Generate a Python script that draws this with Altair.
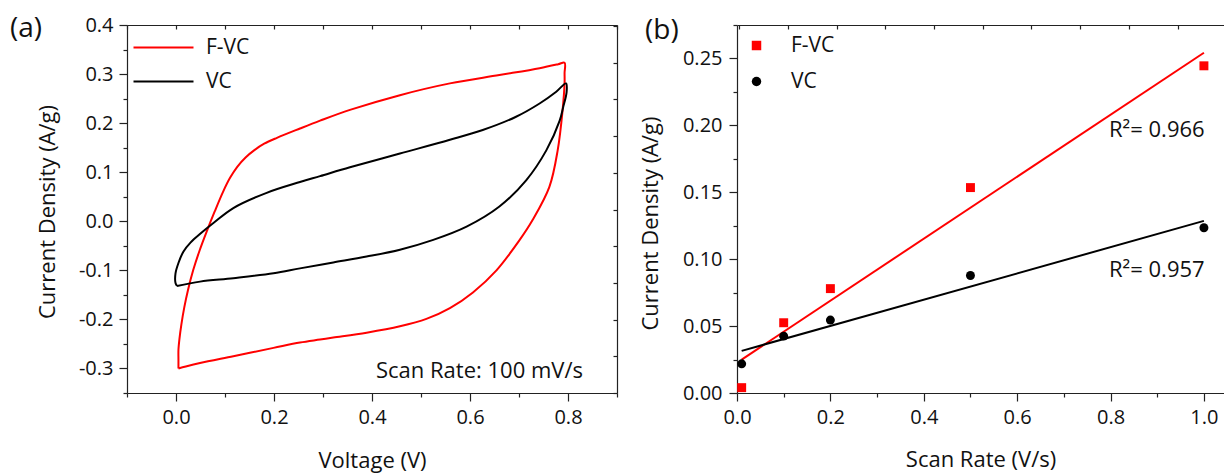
import altair as alt
import pandas as pd

FONT = "Open Sans"
SERIES = ["F-VC", "VC"]
COLORS = ["#ff0000", "#000000"]

# ---------------- panel (a): CV loops at 100 mV/s ----------------
fvc_v = [0.005, 0.005, 0.005, 0.007, 0.011, 0.017, 0.0245, 0.035, 0.048, 0.063, 0.079, 0.096, 0.110,
         0.125, 0.142, 0.160, 0.180, 0.206, 0.253, 0.294, 0.355, 0.457, 0.559, 0.660, 0.742, 0.780,
         0.793, 0.793, 0.793,
         0.789, 0.779, 0.762, 0.728, 0.700, 0.654, 0.606, 0.559, 0.511, 0.457, 0.389,
         0.321, 0.294, 0.253, 0.199, 0.117, 0.049, 0.020, 0.005]
fvc_i = [-0.300, -0.282, -0.262, -0.240, -0.210, -0.175, -0.140, -0.100, -0.060, -0.020, 0.020, 0.060, 0.088,
         0.111, 0.130, 0.145, 0.158, 0.170, 0.189, 0.205, 0.227, 0.257, 0.281, 0.298, 0.312, 0.320,
         0.323, 0.302, 0.281,
         0.227, 0.145, 0.070, 0.003, -0.040, -0.100, -0.145, -0.177, -0.199, -0.214, -0.227,
         -0.237, -0.241, -0.247, -0.258, -0.275, -0.289, -0.296, -0.300]

vc_v = [0.002, -0.001, -0.001, 0.005, 0.015, 0.030, 0.050, 0.077, 0.117, 0.185, 0.253, 0.294,
        0.355, 0.457, 0.559, 0.626, 0.694, 0.742, 0.776, 0.796,
        0.797, 0.790, 0.783, 0.756, 0.715, 0.660, 0.593, 0.525, 0.457, 0.389,
        0.321, 0.253, 0.199, 0.117, 0.049, 0.002]
vc_i = [-0.132, -0.126, -0.106, -0.085, -0.062, -0.043, -0.025, -0.003, 0.027, 0.058, 0.080, 0.092,
        0.110, 0.138, 0.166, 0.186, 0.213, 0.240, 0.264, 0.281,
        0.262, 0.232, 0.205, 0.145, 0.084, 0.030, -0.011, -0.038, -0.058, -0.072,
        -0.084, -0.096, -0.106, -0.116, -0.123, -0.132]

# ---------------- panel (b): current density vs scan rate ----------------
scan_rate = [0.01, 0.1, 0.2, 0.5, 1.0]
fvc_cd = [0.004, 0.0525, 0.078, 0.1535, 0.2445]
vc_cd = [0.0218, 0.0425, 0.0545, 0.0878, 0.1235]

# tick values
xa_ticks = [-0.1, 0.0, 0.1, 0.2, 0.3, 0.4, 0.5, 0.6, 0.7, 0.8, 0.9]
ya_ticks = [-0.35, -0.3, -0.25, -0.2, -0.15, -0.1, -0.05, 0.0, 0.05, 0.1, 0.15, 0.2, 0.25, 0.3, 0.35, 0.4]
xb_ticks = [0.0, 0.1, 0.2, 0.3, 0.4, 0.5, 0.6, 0.7, 0.8, 0.9, 1.0]
yb_ticks = [0.0, 0.025, 0.05, 0.075, 0.1, 0.125, 0.15, 0.175, 0.2, 0.225, 0.25, 0.275]
mirror_a_right = [0, 1, 2, 3, 4, 5, 6, 7, 8, 9, 10]
mirror_b_top = [0, 1, 2, 3, 4, 5, 6, 7, 8, 9]

# texts
label_a = "(a)"
label_b = "(b)"
scan_note = "Scan Rate: 100 mV/s"
r2_texts = ["R\u00b2= 0.966", "R\u00b2= 0.957"]

W1, W2, H = 490, 487, 368

rows_a = []
for name, vs, cs in [("F-VC", fvc_v, fvc_i), ("VC", vc_v, vc_i)]:
    for k, (v, c) in enumerate(zip(vs, cs)):
        rows_a.append({"series": name, "idx": k, "v": v, "i": c})
df_a = pd.DataFrame(rows_a)

rows_b = []
for name, cs in [("F-VC", fvc_cd), ("VC", vc_cd)]:
    for r, c in zip(scan_rate, cs):
        rows_b.append({"series": name, "rate": r, "cd": c})
df_b = pd.DataFrame(rows_b)


def major_test(mult):
    return f"abs(round(datum.value*{mult})) % 2 == 0"


def tsize(mult):
    return {"condition": {"test": major_test(mult), "value": 8}, "value": 4}


def lexpr(mult):
    return f"{major_test(mult)} ? replace(datum.label, '\u2212', '-') : ''"


sx1 = alt.Scale(domain=[-0.1, 0.9], nice=False, zero=False)
sy1 = alt.Scale(domain=[-0.35, 0.4], nice=False, zero=False)
sx2 = alt.Scale(domain=[0, 1.043], nice=False, zero=False)
sy2 = alt.Scale(domain=[0, 0.275], nice=False, zero=False)
col_scale = alt.Scale(domain=SERIES, range=COLORS)

# ---- panel (a) layers ----
loops = alt.Chart(df_a).mark_line(strokeWidth=2, interpolate="catmull-rom").encode(
    x=alt.X("v:Q", scale=sx1, axis=alt.Axis(
        orient="bottom", values=xa_ticks, format=".1f", labelExpr=lexpr(10), tickSize=tsize(10),
        labelPadding=6, title="Voltage (V)", titleY=74, titleBaseline="alphabetic")),
    y=alt.Y("i:Q", scale=sy1, axis=alt.Axis(
        orient="left", values=ya_ticks, format=".1f", labelExpr=lexpr(20), tickSize=tsize(20),
        labelPadding=6, title="Current Density (A/g)", titleX=-73, titleY=186.5,
        titleAngle=270, titleAlign="center", titleBaseline="alphabetic")),
    color=alt.Color("series:N", scale=col_scale, legend=alt.Legend(
        orient="none", legendX=26, legendY=12, title=None, symbolType="M-6,0H6", symbolSize=100,
        symbolStrokeWidth=2, symbolFillColor="transparent", labelOffset=32, rowPadding=12,
        padding=0, labelFontSize=21)),
    order="idx:Q",
)

mirror_a = alt.Chart(df_a).mark_point(opacity=0).encode(
    x=alt.X("v:Q", scale=sx1, axis=alt.Axis(
        orient="bottom", offset=-H, values=xa_ticks, labels=False, tickSize=4, title=None)),
    y=alt.Y("i:Q", scale=alt.Scale(domain=[0, 10.03], nice=False, zero=False), axis=alt.Axis(
        orient="left", offset=-W1, values=mirror_a_right, labels=False, tickSize=4, title=None)),
)

# invisible frame anchor: fixes the page origin and the full page height
anchor = alt.Chart(alt.Data(values=[{"a": 0}])).mark_rule(opacity=0, strokeWidth=0).encode(
    x=alt.value(-127), x2=alt.value(-127), y=alt.value(-25), y2=alt.value(449))

txt_a = alt.Chart(alt.Data(values=[{"t": label_a}])).mark_text(
    align="left", baseline="alphabetic", font=FONT, fontSize=28, color="#111").encode(
    x=alt.value(-117), y=alt.value(12), text="t:N")

txt_scan = alt.Chart(alt.Data(values=[{"t": scan_note}])).mark_text(
    align="right", baseline="alphabetic", font=FONT, fontSize=22, color="#111").encode(
    x=alt.value(456), y=alt.value(353), text="t:N")

panel_a = alt.layer(loops, mirror_a, anchor, txt_a, txt_scan).resolve_scale(
    x="independent", y="independent").properties(width=W1, height=H)

# ---- panel (b) layers ----
reg = alt.Chart(df_b).transform_regression(
    "rate", "cd", groupby=["series"], extent=[0.01, 1.0]).mark_line(strokeWidth=2).encode(
    x=alt.X("rate:Q", scale=sx2, axis=None),
    y=alt.Y("cd:Q", scale=sy2, axis=None),
    color=alt.Color("series:N", scale=col_scale, legend=None),
)

leg_b = alt.Legend(orient="none", legendX=9, legendY=10, title=None, symbolSize=90,
                   labelOffset=24, rowPadding=14, padding=0, labelFontSize=21)
pts = alt.Chart(df_b).mark_point(filled=True, opacity=1, size=80).encode(
    x=alt.X("rate:Q", scale=sx2, axis=alt.Axis(
        orient="bottom", values=xb_ticks, format=".1f", labelExpr=lexpr(10), tickSize=tsize(10),
        labelPadding=6, title="Scan Rate (V/s)", titleY=73, titleBaseline="alphabetic")),
    y=alt.Y("cd:Q", scale=sy2, axis=alt.Axis(
        orient="left", values=yb_ticks, format=".2f", labelExpr=lexpr(40), tickSize=tsize(40),
        labelPadding=7, title="Current Density (A/g)", titleX=-80, titleY=198,
        titleAngle=270, titleAlign="center", titleBaseline="alphabetic")),
    color=alt.Color("series:N", scale=col_scale, legend=leg_b),
    shape=alt.Shape("series:N", scale=alt.Scale(domain=SERIES, range=["square", "circle"]), legend=leg_b),
)

mirror_b = alt.Chart(df_b).mark_point(opacity=0).encode(
    x=alt.X("rate:Q", scale=alt.Scale(domain=[-0.047, 9.953], nice=False, zero=False), axis=alt.Axis(
        orient="bottom", offset=-H, values=mirror_b_top, labels=False, tickSize=4, title=None)),
    y=alt.Y("cd:Q", scale=sy2, axis=None),
)

txt_b = alt.Chart(alt.Data(values=[{"t": label_b}])).mark_text(
    align="left", baseline="alphabetic", font=FONT, fontSize=28, color="#111").encode(
    x=alt.value(-92), y=alt.value(14), text="t:N")

txt_r2 = alt.Chart(alt.Data(values=[{"t": r2_texts[0], "py": 112}, {"t": r2_texts[1], "py": 252}])).mark_text(
    align="left", baseline="alphabetic", font=FONT, fontSize=22, color="#111").encode(
    x=alt.value(372), y=alt.Y("py:Q", scale=None), text="t:N")

panel_b = alt.layer(reg, pts, mirror_b, txt_b, txt_r2).resolve_scale(
    x="independent", y="independent", color="independent", shape="independent").properties(width=W2, height=H)

chart = alt.hconcat(panel_a, panel_b, spacing=120, bounds="flush").resolve_scale(
    color="independent", shape="independent"
).properties(padding={"left": 0, "top": 0, "right": 0, "bottom": 0}).configure_view(
    stroke=None
).configure_axis(
    grid=False, labelFont=FONT, titleFont=FONT, labelFontSize=20, titleFontSize=22,
    titleFontWeight="normal", domainColor="#222", tickColor="#222", labelColor="#111",
    titleColor="#111", domainWidth=1.2, tickWidth=1.2, labelFlush=False, labelOverlap=False
).configure_legend(labelFont=FONT, labelColor="#111")

chart.save("out.html", embed_options={"renderer": "svg", "actions": False})
